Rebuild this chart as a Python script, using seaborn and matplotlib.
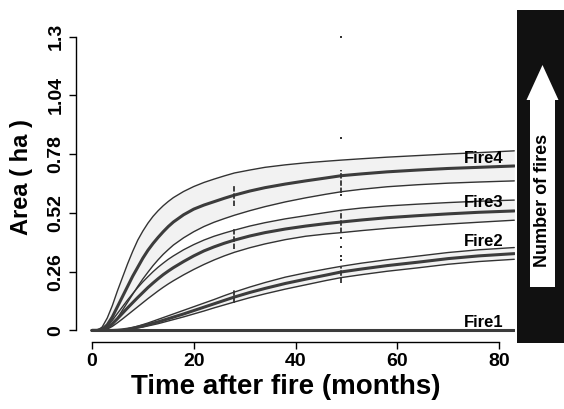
import numpy as np
import pandas as pd
import matplotlib
matplotlib.use("Agg")
import matplotlib.pyplot as plt
import seaborn as sns

# months after fire
t = [0, 1, 2, 3, 4, 5, 6, 7, 8, 9, 10, 11, 12, 13, 14, 15, 16, 18, 20, 22, 24, 26, 28,
     31, 34, 38, 42, 46, 49, 53, 58, 64, 70, 76, 83]

fire4_upper = [0, 0, 0.015, 0.055, 0.11, 0.175, 0.235, 0.295, 0.35, 0.40, 0.44, 0.475, 0.505, 0.53,
               0.552, 0.571, 0.588, 0.615, 0.637, 0.655, 0.67, 0.684, 0.697, 0.71, 0.722, 0.733,
               0.742, 0.749, 0.754, 0.76, 0.767, 0.774, 0.781, 0.787, 0.795]
fire4_mean = [0, 0, 0.005, 0.025, 0.06, 0.105, 0.15, 0.195, 0.24, 0.28, 0.32, 0.355, 0.385, 0.412,
              0.437, 0.46, 0.48, 0.512, 0.537, 0.555, 0.57, 0.585, 0.599, 0.617, 0.632, 0.648,
              0.662, 0.675, 0.685, 0.693, 0.702, 0.71, 0.717, 0.722, 0.728]
fire4_lower = [0, 0, 0, 0.008, 0.025, 0.055, 0.09, 0.125, 0.16, 0.195, 0.228, 0.258, 0.287, 0.313,
               0.337, 0.358, 0.378, 0.41, 0.437, 0.46, 0.479, 0.495, 0.51, 0.53, 0.548, 0.569,
               0.587, 0.603, 0.614, 0.625, 0.636, 0.645, 0.652, 0.657, 0.662]

fire3_upper = [0, 0, 0.005, 0.02, 0.045, 0.075, 0.105, 0.135, 0.163, 0.19, 0.215, 0.238, 0.26, 0.28,
               0.298, 0.315, 0.33, 0.357, 0.38, 0.4, 0.417, 0.431, 0.444, 0.462, 0.477, 0.494,
               0.508, 0.522, 0.532, 0.542, 0.551, 0.559, 0.566, 0.572, 0.577]
fire3_mean = [0, 0, 0.003, 0.013, 0.03, 0.052, 0.076, 0.1, 0.123, 0.146, 0.168, 0.19, 0.21, 0.229,
              0.247, 0.263, 0.278, 0.305, 0.33, 0.352, 0.37, 0.386, 0.40, 0.418, 0.433, 0.449,
              0.462, 0.473, 0.48, 0.489, 0.499, 0.508, 0.516, 0.523, 0.529]
fire3_lower = [0, 0, 0, 0.006, 0.018, 0.034, 0.051, 0.069, 0.087, 0.105, 0.123, 0.141, 0.158, 0.175,
               0.191, 0.206, 0.22, 0.246, 0.27, 0.292, 0.312, 0.33, 0.346, 0.366, 0.383, 0.402,
               0.417, 0.427, 0.433, 0.442, 0.452, 0.462, 0.471, 0.479, 0.488]

fire2_upper = [0, 0, 0, 0, 0, 0.001, 0.004, 0.008, 0.013, 0.019, 0.026, 0.033, 0.041, 0.049,
               0.057, 0.065, 0.073, 0.089, 0.105, 0.121, 0.137, 0.154, 0.17, 0.192, 0.212, 0.236,
               0.255, 0.272, 0.284, 0.298, 0.313, 0.329, 0.345, 0.357, 0.367]
fire2_mean = [0, 0, 0, 0, 0, 0.001, 0.003, 0.006, 0.01, 0.015, 0.02, 0.026, 0.032, 0.038,
              0.045, 0.052, 0.059, 0.073, 0.088, 0.103, 0.118, 0.133, 0.148, 0.168, 0.186, 0.208,
              0.227, 0.245, 0.259, 0.272, 0.287, 0.302, 0.318, 0.33, 0.34]
fire2_lower = [0, 0, 0, 0, 0, 0, 0.002, 0.004, 0.007, 0.011, 0.015, 0.02, 0.025, 0.03,
               0.036, 0.042, 0.048, 0.06, 0.073, 0.086, 0.1, 0.113, 0.126, 0.145, 0.162, 0.183,
               0.202, 0.221, 0.234, 0.247, 0.262, 0.277, 0.293, 0.305, 0.315]

fire1_mean = [0] * len(t)

fire_names = ["Fire1", "Fire2", "Fire3", "Fire4"]
label_y = [0.037, 0.392, 0.566, 0.763]

# short dashed marks at two survey dates
mark_t = [28, 49]
mark_lo = {"Fire2": [0.12, 0.21], "Fire3": [0.36, 0.43], "Fire4": [0.55, 0.61]}
mark_hi = {"Fire2": [0.18, 0.28], "Fire3": [0.45, 0.53], "Fire4": [0.64, 0.71]}
dots_y = [1.30, 0.85, 0.60, 0.41, 0.37, 0.33, 0.31]

y_ticks = [0, 0.26, 0.52, 0.78, 1.04, 1.3]
y_tick_labels = ["0", "0.26", "0.52", "0.78", "1.04", "1.3"]
x_ticks = [0, 20, 40, 60, 80]

sns.set_theme(style="white")
plt.rcParams["font.family"] = ["Liberation Sans", "DejaVu Sans"]
plt.rcParams.update({"text.color": "black", "axes.labelcolor": "black",
                     "xtick.color": "black", "ytick.color": "black"})

W, H = 564, 409
fig = plt.figure(figsize=(W / 100, H / 100), dpi=100)
ax = fig.add_axes([75.7 / W, 1 - 342.2 / H, (515.3 - 75.7) / W, (342.2 - 25.0) / H])

band_col = "#f2f2f2"
edge_col = "#333333"
mean_col = "#3c3c3c"

bands = {
    "Fire4": (fire4_lower, fire4_mean, fire4_upper),
    "Fire3": (fire3_lower, fire3_mean, fire3_upper),
    "Fire2": (fire2_lower, fire2_mean, fire2_upper),
}
for name, (lo, mid, hi) in bands.items():
    ax.fill_between(t, lo, hi, color=band_col, lw=0, zorder=1)
    df = pd.DataFrame({"t": t, "lo": lo, "mid": mid, "hi": hi})
    sns.lineplot(data=df, x="t", y="lo", ax=ax, color=edge_col, lw=1.0, zorder=2)
    sns.lineplot(data=df, x="t", y="hi", ax=ax, color=edge_col, lw=1.0, zorder=2)
    sns.lineplot(data=df, x="t", y="mid", ax=ax, color=mean_col, lw=2.2, zorder=3)

sns.lineplot(x=t, y=fire1_mean, ax=ax, color=mean_col, lw=2.2, zorder=3)

for name in mark_lo:
    for xi, lo, hi in zip(mark_t, mark_lo[name], mark_hi[name]):
        ax.plot([xi, xi], [lo, hi], color=edge_col, lw=1.3, ls=(0, (3, 1)), zorder=4)
ax.scatter([mark_t[1]] * len(dots_y), dots_y, s=2, color=edge_col, marker="s", lw=0, zorder=4)

for name, yy in zip(fire_names, label_y):
    ax.text(80.9, yy, name, ha="right", va="center", fontsize=12, fontweight="bold",
            color="black", zorder=5)

ax.set_xlim(-3.2, 83.2)
ax.set_ylim(-0.052, 1.352)
ax.set_xticks(x_ticks)
ax.set_yticks(y_ticks)
ax.set_yticklabels(y_tick_labels, rotation=90, va="center")
for s in ["top", "right"]:
    ax.spines[s].set_visible(False)
ax.spines["left"].set_bounds(0, 1.3)
ax.spines["bottom"].set_bounds(0, 80)
for s in ["left", "bottom"]:
    ax.spines[s].set_color("black")
    ax.spines[s].set_linewidth(1.0)
ax.tick_params(axis="both", direction="out", length=5, width=1, color="black",
               labelcolor="black", labelsize=14, pad=3, left=True, bottom=True)
for lab in ax.get_xticklabels() + ax.get_yticklabels():
    lab.set_fontweight("bold")
ax.set_xlabel("Time after fire (months)", fontsize=20, fontweight="bold", color="black")
ax.set_ylabel("Area ( ha )", fontsize=17, fontweight="bold", color="black")
ax.xaxis.set_label_coords(0.477, -0.10)
ax.yaxis.set_label_coords(-0.097, 0.52)
ax.set_facecolor("white")

# black panel with arrow on the right
pax = fig.add_axes([516.7 / W, 1 - 343 / H, (W - 516.7) / W, (343 - 10) / H])
pax.set_facecolor("#111111")
pax.set_xlim(0, W - 516.7)
pax.set_ylim(343, 10)
pax.set_xticks([])
pax.set_yticks([])
for s in pax.spines.values():
    s.set_visible(False)
cx = 542.5 - 516.7
pax.fill([cx - 12.5, cx + 12.5, cx + 12.5, cx + 16, cx, cx - 16, cx - 12.5],
         [287, 287, 100, 100, 65, 100, 100], color="white", lw=0)
pax.text(cx, 200, "Number of fires", rotation=90, ha="center", va="center",
         fontsize=13, fontweight="bold", color="black")

fig.savefig("out.png", dpi=100)
